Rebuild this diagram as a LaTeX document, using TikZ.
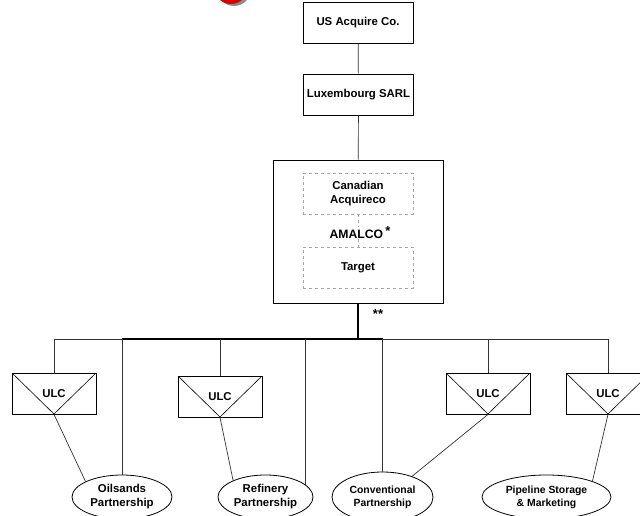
\documentclass[tikz,border=0pt]{standalone}
\usepackage{fontspec}
\setmainfont{Liberation Sans}
\usetikzlibrary{shapes.geometric}

\tikzset{
  lbl/.style={font=\fontsize{11.4}{15}\selectfont\bfseries, align=center, inner sep=0pt},
  entity/.style={lbl, draw, line width=0.8pt, minimum width=110pt, minimum height=41pt},
  ghost/.style={lbl, draw=black!35, dashed, line width=0.8pt, minimum width=110pt, minimum height=41pt},
  ulcbox/.style={lbl, draw, line width=0.8pt, minimum width=84pt, minimum height=41pt,
    path picture={\draw[line width=0.6pt] (path picture bounding box.north west) -- (path picture bounding box.south)
      -- (path picture bounding box.north east);}},
  pship/.style={lbl, draw, ellipse, line width=0.8pt, minimum height=44pt},
  thin/.style={line width=0.7pt, draw=black!80},
  thick/.style={line width=1.5pt}
}

\begin{document}
\begin{tikzpicture}[x=1pt, y=-1pt]
  \useasboundingbox (0,0) rectangle (640,516);
  \clip (0,0) rectangle (640,516);

  % red marker at the top edge
  \fill[black!45] (234,-11) circle (17pt);
  \fill[red!85!black] (231,-13) circle (17pt);

  % holding chain
  \node[entity] (us)  at (358,23)    {US Acquire Co.};
  \node[entity] (lux) at (358.5,94.5) {Luxembourg SARL};
  \node[draw, line width=0.8pt, minimum width=170pt, minimum height=143pt] (amalco) at (358,231.5) {};
  \node[ghost] (canaq) at (358,193.5) {Canadian\\[-1pt]Acquireco};
  \node[lbl, font=\fontsize{12.2}{15}\selectfont\bfseries] (amlabel) at (360,233)
    {AMALCO\,\raisebox{3pt}{\fontsize{13}{13}\selectfont *}};
  \node[ghost] (target) at (358,267.5) {Target};

  \draw[thin] (us) -- (lux);
  \draw[thin] (lux) -- (amalco);
  \draw[black!35, dashed, line width=0.8pt] (canaq) -- (canaq |- amlabel.north);
  \draw[black!35, dashed, line width=0.8pt] (canaq |- amlabel.south) -- (target);

  % subsidiaries
  \node[ulcbox] (ulc1) at (54,393.5)  {ULC};
  \node[ulcbox] (ulc2) at (220,396.5) {ULC};
  \node[ulcbox] (ulc3) at (488,393.5) {ULC};
  \node[ulcbox] (ulc4) at (608,393.5) {ULC};

  \node[pship, minimum width=100pt] (oil)  at (122,497)   {Oilsands\\[-1pt]Partnership};
  \node[pship, minimum width=95pt]  (ref)  at (265.5,497) {Refinery\\[-1pt]Partnership};
  \node[pship, minimum width=101pt, minimum height=50pt,
        font=\fontsize{10.4}{14}\selectfont\bfseries] (conv) at (382.5,497) {Conventional\\[-1pt]Partnership};
  \node[pship, minimum width=129pt,
        font=\fontsize{10.4}{14}\selectfont\bfseries] (pipe) at (546.5,497) {Pipeline Storage\\[-1pt]\& Marketing};

  % distribution bus
  \coordinate (bus) at (0,339);
  \draw[thick] (amalco.south) -- (amalco.south |- bus);
  \node[lbl, font=\fontsize{13}{13}\selectfont\bfseries] (stars) at (378,314) {**};
  \draw[thin] (ulc1.north |- bus) -- (oil.north |- bus);
  \draw[thick, line width=1.3pt] (oil.north |- bus) -- (conv.north |- bus);
  \draw[thin] (conv.north |- bus) -- (ulc4.north |- bus);

  % drops from the bus
  \draw[thin] (ulc1.north |- bus) -- (ulc1.north);
  \draw[thin] (oil.north |- bus) -- (oil.north);
  \draw[thin] (ulc2.north |- bus) -- (ulc2.north);
  \draw[thin] (ref.17 |- bus) -- (ref.17);
  \draw[thin] (conv.north |- bus) -- (conv.north);
  \draw[thin] (ulc3.north |- bus) -- (ulc3.north);
  \draw[thin] (ulc4.north |- bus) -- (ulc4.north);

  % ULC interests in the partnerships
  \draw[thin] (ulc1.south) -- (oil.157);
  \draw[thin] (ulc2.south) -- (ref.153);
  \draw[thin] (ulc3.south) -- (conv.35);
  \draw[thin] (ulc4.south) -- (pipe.19);
\end{tikzpicture}
\end{document}
